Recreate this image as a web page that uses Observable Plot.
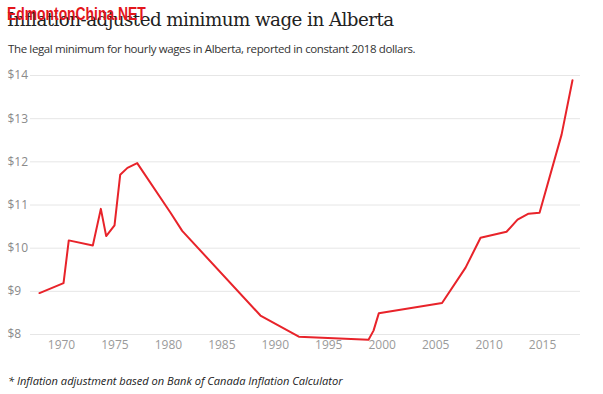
<!DOCTYPE html>
<html>
<head>
<meta charset="utf-8">
<script src="https://cdn.jsdelivr.net/npm/d3@7"></script>
<script src="https://cdn.jsdelivr.net/npm/@observablehq/plot@0.6"></script>
<style>
  html, body { margin: 0; padding: 0; background: #fff; width: 603px; height: 394px; overflow: hidden; }
  #wrap { position: relative; width: 603px; height: 394px; }
  #title { position: absolute; left: 7px; top: 9px; font-family: "DejaVu Serif", serif; font-size: 18.3px; color: #222; white-space: nowrap; letter-spacing: -0.55px; }
  #mark { position: absolute; left: 7px; top: 3px; font-family: "Liberation Sans", sans-serif; font-weight: bold; font-size: 18.5px; color: #e3161c; white-space: nowrap; transform: scaleX(0.75); transform-origin: left top; }
  #sub { position: absolute; left: 8px; top: 41px; font-family: "Open Sans", sans-serif; font-size: 11.5px; letter-spacing: -0.37px; color: #333; white-space: nowrap; }
  #chart { position: absolute; left: 0; top: 62px; }
  #foot { position: absolute; left: 8px; top: 373px; font-family: "Open Sans", sans-serif; font-style: italic; font-size: 11.1px; color: #222; white-space: nowrap; }
</style>
</head>
<body>
<div id="wrap">
  <div id="title">Inflation-adjusted minimum wage in Alberta</div>
  <div id="mark">EdmontonChina.NET</div>
  <div id="sub">The legal minimum for hourly wages in Alberta, reported in constant 2018 dollars.</div>
  <div id="chart"></div>
  <div id="foot">* Inflation adjustment based on Bank of Canada Inflation Calculator</div>
</div>
<script>
const years = [1967.94, 1970.19, 1970.68, 1972.93, 1973.68, 1974.18, 1974.96, 1975.49, 1976.17, 1977.08,
  1980.2, 1981.29, 1988.61, 1992.2, 1998.72, 1999.19, 1999.68, 2005.6, 2007.8, 2009.2,
  2011.63, 2012.66, 2013.69, 2014.72, 2016.78, 2017.8];
const wages = [8.96, 9.19, 10.18, 10.06, 10.91, 10.28, 10.53, 11.70, 11.86, 11.97,
  10.82, 10.40, 8.44, 7.95, 7.88, 8.09, 8.49, 8.73, 9.55, 10.24,
  10.38, 10.66, 10.80, 10.82, 12.63, 13.89];
const yTicks = [8, 9, 10, 11, 12, 13, 14];
const xTicks = [1970, 1975, 1980, 1985, 1990, 1995, 2000, 2005, 2010, 2015];

const data = years.map((y, i) => ({year: y, wage: wages[i]}));

const chart = Plot.plot({
  width: 603,
  height: 294,
  marginLeft: 30,
  marginRight: 23,
  marginTop: 13,
  marginBottom: 22,
  style: {fontFamily: "Open Sans, sans-serif", fontSize: "12px", background: "transparent"},
  x: {domain: [1967.1, 2018.55]},
  y: {domain: [8, 14]},
  marks: [
    Plot.gridY(yTicks, {stroke: "#e6e6e6", strokeOpacity: 1, strokeWidth: 1}),
    Plot.axisY(yTicks, {tickSize: 0, tickPadding: 23, textAnchor: "start", tickFormat: d => "$" + d, fill: "#8a8a8a", label: null}),
    Plot.axisX(xTicks, {tickSize: 0, tickPadding: 6, tickFormat: d => String(d), fill: "#9a9a9a", label: null}),
    Plot.line(data, {x: "year", y: "wage", stroke: "#e8232a", strokeWidth: 2, curve: "linear"})
  ]
});
document.getElementById("chart").appendChild(chart);
</script>
</body>
</html>
